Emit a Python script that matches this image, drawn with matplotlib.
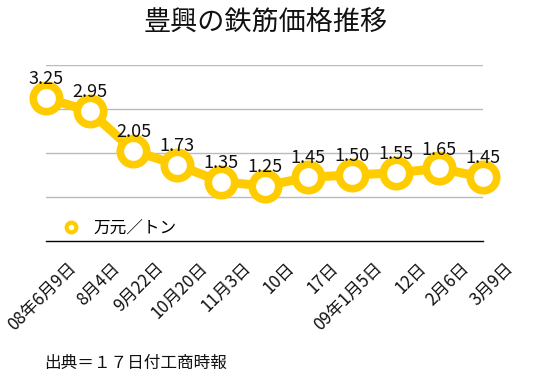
import matplotlib
matplotlib.use("Agg")
import matplotlib.pyplot as plt
from matplotlib.transforms import ScaledTranslation
from matplotlib.lines import Line2D

plt.rcParams['font.family'] = ['Noto Sans CJK JP', 'DejaVu Sans']

dates = ["08年6月9日", "8月4日", "9月22日", "10月20日", "11月3日", "10日",
         "17日", "09年1月5日", "12日", "2月6日", "3月9日"]
prices = [3.25, 2.95, 2.05, 1.73, 1.35, 1.25, 1.45, 1.50, 1.55, 1.65, 1.45]
labels = ["3.25", "2.95", "2.05", "1.73", "1.35", "1.25", "1.45", "1.50", "1.55", "1.65", "1.45"]
series_name = "万元／トン"
title = "豊興の鉄筋価格推移"
source = "出典＝１７日付工商時報"

W, H = 546, 385
fig = plt.figure(figsize=(W/100, H/100), dpi=100)
ax = fig.add_axes([46/W, (H-241)/H, (483-46)/W, (241-65)/H])

yellow = "#FFCC00"
x = list(range(len(prices)))
ax.plot(x, prices, color=yellow, lw=6.5, marker='o', ms=19, mfc='white',
        mec=yellow, mew=5.5, clip_on=False, zorder=5)

for xi, yi, lab in zip(x, prices, labels):
    ax.annotate(lab, (xi, yi), xytext=(0, 13.5), textcoords='offset points',
                ha='center', va='center', fontsize=13, color='#111111', zorder=6)

ax.set_xlim(0, len(prices)-1)
ax.set_ylim(0, 4)
ax.set_yticks([1, 2, 3, 4])
ax.yaxis.grid(True, color='#BBBBBB', lw=1)
ax.set_axisbelow(True)
ax.tick_params(axis='y', left=False, labelleft=False)
ax.tick_params(axis='x', length=0)
for s in ['top', 'right', 'left']:
    ax.spines[s].set_visible(False)
ax.spines['bottom'].set_color('black')
ax.spines['bottom'].set_linewidth(1)

ax.set_xticks(x)
ax.set_xticklabels(dates, rotation=45, ha='right', rotation_mode='anchor',
                   fontsize=12.2, color='#111111')
off = ScaledTranslation(21/100, -13/100, fig.dpi_scale_trans)
for t in ax.get_xticklabels():
    t.set_transform(t.get_transform() + off)

handle = Line2D([], [], color=yellow, lw=0, marker='o', ms=7, mfc='white', mec=yellow, mew=3)
ax.legend([handle], [series_name], loc='center left', bbox_to_anchor=(12/437, 13/176),
          frameon=False, fontsize=12, handletextpad=0.5, handlelength=1.6,
          borderaxespad=0.0, borderpad=0.0)

fig.text(266/W, 1-22/H, title, ha='center', va='center', fontsize=19.5, color='#111111')
fig.text(44/W, 1-363/H, source, ha='left', va='center', fontsize=12, color='#111111')

fig.savefig("out.png", dpi=100)
